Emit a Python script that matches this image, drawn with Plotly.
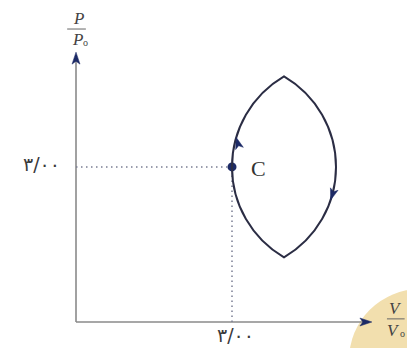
import math
import plotly.graph_objects as go

# ---- data (chart units: V/V0 on x, P/P0 on y) ----
point_C = [3.00, 3.00]          # state C on the loop
loop_top = [4.00, 4.75]         # upper cusp of the cycle
loop_bottom = [4.00, 1.25]      # lower cusp of the cycle
tick_values = [3.00]
tick_labels = ["۳/۰۰"]
arrow_tip_y = [3.57, 2.36]      # direction arrows: left arc (up), right arc (down)
axis_tip = [5.69, 5.22]         # ends of the V/V0 and P/P0 axes

# ---- styles ----
LOOP = "#2b2d44"
NAVY = "#1c2a66"
AXIS = "#8a8a8a"
DOT = "#7a7e92"
TXT = "#3a3a3a"

# the page body keeps an 8px margin, so the figure covers the window from (8, 8)
W, H = 407, 340
X_RANGE = [-1.3077, 6.5192]
Y_RANGE = [-0.503, 6.0735]

fig = go.Figure()

# circle geometry for the two arcs of the lens
half_h = (loop_top[1] - loop_bottom[1]) / 2
sag = loop_top[0] - point_C[0]
R = (half_h ** 2 + sag ** 2) / (2 * sag)
cy = (loop_top[1] + loop_bottom[1]) / 2
cx_left = point_C[0] + R
cx_right = 2 * loop_top[0] - cx_left
theta = math.asin(half_h / R)
k = 4 / 3 * math.tan(theta / 4) * R
tx, ty = -math.sin(theta), -math.cos(theta)

xt, yt = loop_top
xb, yb = loop_bottom
xc, yc = point_C
xr = 2 * loop_top[0] - xc
c1 = (xt + k * tx, yt + k * ty)
c2 = (xc, yc + k)
c3 = (xc, yc - k)
c4 = (xb + k * tx, yb - k * ty)
m = lambda p: (2 * loop_top[0] - p[0], p[1])
path = (f"M {xt},{yt} C {c1[0]},{c1[1]} {c2[0]},{c2[1]} {xc},{yc} "
        f"C {c3[0]},{c3[1]} {c4[0]},{c4[1]} {xb},{yb} "
        f"C {m(c4)[0]},{m(c4)[1]} {m(c3)[0]},{m(c3)[1]} {xr},{yc} "
        f"C {m(c2)[0]},{m(c2)[1]} {m(c1)[0]},{m(c1)[1]} {xt},{yt} Z")

shapes = []
# beige blob bottom right (decoration)
shapes.append(dict(type="circle", xref="x", yref="y", x0=5.25, x1=7.98, y0=-2.108, y1=0.638,
                   fillcolor="#f2dfae", line=dict(width=0), layer="below"))
# axes lines
shapes.append(dict(type="line", xref="x", yref="y", x0=0, y0=0, x1=0, y1=axis_tip[1] - 0.15,
                   line=dict(color=AXIS, width=1.6)))
shapes.append(dict(type="line", xref="x", yref="y", x0=0, y0=0, x1=axis_tip[0] - 0.15, y1=0,
                   line=dict(color=AXIS, width=1.6)))
# dotted guides
shapes.append(dict(type="line", xref="x", yref="y", x0=0, y0=tick_values[0], x1=point_C[0], y1=tick_values[0],
                   line=dict(color=DOT, width=1.5, dash="1.5px,3.5px")))
shapes.append(dict(type="line", xref="x", yref="y", x0=tick_values[0], y0=0, x1=tick_values[0], y1=point_C[1],
                   line=dict(color=DOT, width=1.5, dash="1.5px,3.5px")))
# loop
shapes.append(dict(type="path", xref="x", yref="y", path=path, line=dict(color=LOOP, width=2)))


def arrow_head(x, y, dx, dy, L, Wd, color):
    # dx, dy: direction in pixel space (y up)
    n = math.hypot(dx, dy)
    ux, uy = dx / n, dy / n
    px_, py_ = -uy, ux
    pts = [(0, 0), (-L * ux + Wd / 2 * px_, -L * uy + Wd / 2 * py_),
           (-0.75 * L * ux, -0.75 * L * uy), (-L * ux - Wd / 2 * px_, -L * uy - Wd / 2 * py_)]
    p = "M " + " L ".join(f"{a:.2f},{b:.2f}" for a, b in pts) + " Z"
    return dict(type="path", xref="x", yref="y", xsizemode="pixel", ysizemode="pixel",
                xanchor=x, yanchor=y, path=p, fillcolor=color, line=dict(color=color, width=0.5))


shapes.append(arrow_head(0, axis_tip[1], 0, 1, 12, 8, NAVY))
shapes.append(arrow_head(axis_tip[0], 0, 1, 0, 12, 8, NAVY))

# loop arrows
yl = arrow_tip_y[0]
s = (yl - cy) / R
xl = cx_left - R * math.sqrt(1 - s * s)
shapes.append(arrow_head(xl, yl, -s, math.sqrt(1 - s * s), 11.5, 8, NAVY))
yr_ = arrow_tip_y[1]
s2 = (yr_ - cy) / R
xr2 = cx_right + R * math.sqrt(1 - s2 * s2)
shapes.append(arrow_head(xr2, yr_, s2, -math.sqrt(1 - s2 * s2), 11.5, 8, NAVY))

# fraction bars of axis titles
shapes.append(dict(type="line", xref="x", yref="y", x0=-0.17, x1=0.19, y0=5.667, y1=5.667,
                   line=dict(color="#666", width=1)))
shapes.append(dict(type="line", xref="x", yref="y", x0=5.98, x1=6.32, y0=0.06, y1=0.06,
                   line=dict(color="#666", width=1)))

fig.add_trace(go.Scatter(x=[point_C[0]], y=[point_C[1]], mode="markers",
                         marker=dict(color=NAVY, size=9), hoverinfo="skip", showlegend=False))

ann = []
serif = "Liberation Serif"
lab = dict(family=serif, size=17, color="#444")
sub = dict(family=serif, size=10, color="#444")
ann.append(dict(x=0.04, y=5.88, text="<i>P</i>", font=lab))
ann.append(dict(x=0.02, y=5.47, text="<i>P</i>", font=lab))
ann.append(dict(x=0.19, y=5.41, text="o", font=sub))
ann.append(dict(x=6.14, y=0.27, text="<i>V</i>", font=lab))
ann.append(dict(x=6.10, y=-0.16, text="<i>V</i>", font=lab))
ann.append(dict(x=6.27, y=-0.22, text="o", font=sub))
ann.append(dict(x=3.5, y=2.96, text="C", font=dict(family=serif, size=22, color="#333")))
ann.append(dict(x=-0.67, y=tick_values[0] + 0.06, text=tick_labels[0],
                font=dict(family="DejaVu Sans", size=19, color=TXT)))
ann.append(dict(x=tick_values[0] + 0.06, y=-0.26, text=tick_labels[0],
                font=dict(family="DejaVu Sans", size=19, color=TXT)))
for a in ann:
    a.update(xref="x", yref="y", showarrow=False)

fig.update_layout(
    width=W, height=H, margin=dict(l=0, r=0, t=0, b=0),
    paper_bgcolor="white", plot_bgcolor="white",
    xaxis=dict(range=X_RANGE, visible=False, fixedrange=True),
    yaxis=dict(range=Y_RANGE, visible=False, fixedrange=True),
    shapes=shapes, annotations=ann, showlegend=False,
)
fig.write_html("out.html")
